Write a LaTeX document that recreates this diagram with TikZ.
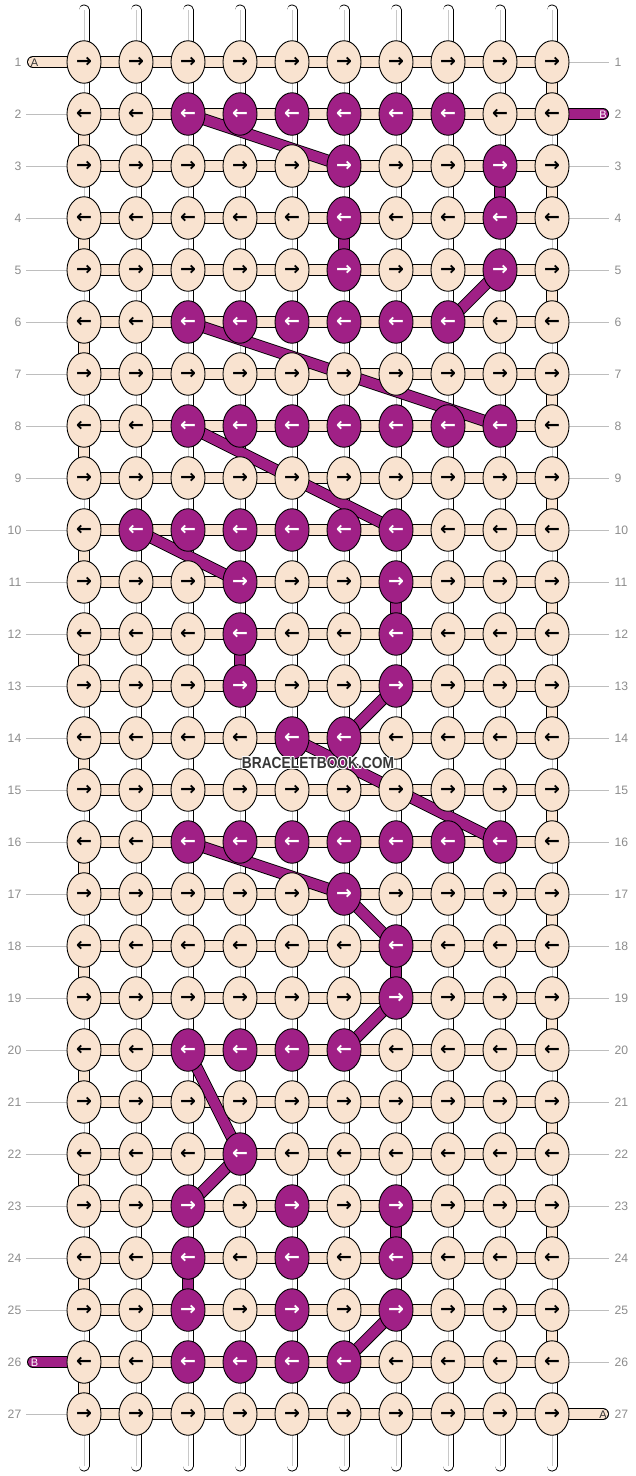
\documentclass[tikz,border=0pt]{standalone}
\usepackage{fontspec}
\setmainfont{Liberation Sans}
\newfontfamily\arrfont{DejaVu Sans}
\usetikzlibrary{shapes.geometric}
\definecolor{peach}{RGB}{249,227,208}
\definecolor{plum}{RGB}{160,32,134}
\definecolor{numgrey}{RGB}{140,140,140}
\definecolor{linegrey}{RGB}{190,190,190}
\definecolor{warpgrey}{RGB}{200,200,200}
\definecolor{wmark}{RGB}{55,55,55}
\pgfdeclarelayer{warps}
\pgfdeclarelayer{bars}
\pgfdeclarelayer{links}
\pgfsetlayers{warps,bars,links,main}
\newcommand\haloed[1]{\leavevmode
 \rlap{\color{white}\kern-0.9pt #1}\rlap{\color{white}\kern0.9pt #1}%
 \rlap{\color{white}\raisebox{0.9pt}{#1}}\rlap{\color{white}\raisebox{-0.9pt}{#1}}%
 \rlap{\color{white}\kern0.7pt\raisebox{0.7pt}{#1}}\rlap{\color{white}\kern-0.7pt\raisebox{-0.7pt}{#1}}%
 \rlap{\color{white}\kern0.7pt\raisebox{-0.7pt}{#1}}\rlap{\color{white}\kern-0.7pt\raisebox{0.7pt}{#1}}%
 #1}
\tikzset{
 knot/.style={ellipse, draw=black, line width=0.9pt, minimum width=34pt, minimum height=42.5pt, inner sep=0pt, font=\arrfont\bfseries\fontsize{19}{19}\selectfont},
 strand/.style={line width=0.9pt, draw=black, double distance=10.2pt},
 barA/.style={strand, double=peach},
 barB/.style={strand, double=plum},
 tailA/.style={barA, line cap=round},
 tailB/.style={barB, line cap=round},
 warpline/.style={line width=0.9pt, draw=black, double=white, double distance=9.2pt, line cap=round},
 warpcore/.style={line width=1pt, draw=warpgrey},
 rowline/.style={line width=0.8pt, draw=linegrey},
 rownum/.style={font=\fontsize{12.2}{13}\selectfont, text=numgrey, inner sep=0pt},
 taillabel/.style={font=\fontsize{11}{11}\selectfont, inner sep=0pt},
 watermark/.style={font=\bfseries\fontsize{16}{16}\selectfont, text=wmark, inner sep=0pt},
}
\begin{document}
\begin{tikzpicture}[x=1pt,y=-1pt]
\useasboundingbox (0,0) rectangle (636,1476);
% knots tied with string B
\foreach \r/\cs in {2/{3,4,5,6,7,8},3/{6,9},4/{6,9},5/{6,9},6/{3,4,5,6,7,8},8/{3,4,5,6,7,8,9},10/{2,3,4,5,6,7},11/{4,7},12/{4,7},13/{4,7},14/{5,6},16/{3,4,5,6,7,8,9},17/{6},18/{7},19/{7},20/{3,4,5,6},22/{4},23/{3,5,7},24/{3,5,7},25/{3,5,7},26/{3,4,5,6}}{
 \foreach \c in \cs {\expandafter\gdef\csname isB-\r-\c\endcsname{}}}
% knots
\foreach \r in {1,...,27}{
 \foreach \c in {1,...,10}{
  \ifcsname isB-\r-\c\endcsname\def\kfill{plum}\def\ktext{white}\else\def\kfill{peach}\def\ktext{black}\fi
  \ifodd\r\relax\def\arr{→}\else\def\arr{←}\fi
  \node[knot, fill=\kfill, text=\ktext] (n\r-\c) at ({84+52*(\c-1)},{62+52*(\r-1)}) {\arr};
 }}
% warps
\begin{pgfonlayer}{warps}
 \foreach \c in {1,...,10}{
  \coordinate (wt\c) at ({84+52*(\c-1)},10);
  \coordinate (wb\c) at ({84+52*(\c-1)},1466);
  \draw[warpline] (wt\c) -- (wb\c);
  \draw[warpcore] (wt\c) -- (wb\c);
 }
 % row guide lines
 \foreach \r in {2,...,25,27}{
  \coordinate (ll\r) at (26,{62+52*(\r-1)});
  \draw[rowline] (ll\r) -- (n\r-1.west);
 }
 \foreach \r in {1,3,4,...,26}{
  \coordinate (rl\r) at (609,{62+52*(\r-1)});
  \draw[rowline] (n\r-10.east) -- (rl\r);
 }
\end{pgfonlayer}
% horizontal strands and tails
\begin{pgfonlayer}{bars}
 \foreach \r in {1,...,27}{
  \draw[barA] (n\r-1.center) -- (n\r-10.center);
 }
 \coordinate (tA1) at (33,62);
 \coordinate (tB2) at (603,114);
 \coordinate (tB26) at (33,1362);
 \coordinate (tA27) at (603,1414);
 \draw[tailA] (n1-1.center) -- (tA1);
 \draw[tailB] (n2-10.center) -- (tB2);
 \draw[tailB] (n26-1.center) -- (tB26);
 \draw[tailA] (n27-10.center) -- (tA27);
\end{pgfonlayer}
% vertical and diagonal links
\begin{pgfonlayer}{links}
 \foreach \r in {1,3,...,25}{
  \pgfmathtruncatemacro\rn{\r+1}
  \draw[barA] (n\r-10.center) -- (n\rn-10.center);
 }
 \foreach \r in {2,4,...,26}{
  \pgfmathtruncatemacro\rn{\r+1}
  \draw[barA] (n\r-1.center) -- (n\rn-1.center);
 }
 \foreach \a/\b in {3-9/4-9,4-6/5-6,11-7/12-7,12-4/13-4,18-7/19-7,23-7/24-7,24-3/25-3,
   2-3/3-6,5-9/6-8,6-3/8-9,8-3/10-7,10-2/11-4,13-7/14-6,14-5/16-9,16-3/17-6,17-6/18-7,19-7/20-6,20-3/22-4,22-4/23-3,25-7/26-6}{
  \draw[barB] (n\a.center) -- (n\b.center);
 }
\end{pgfonlayer}
% tail letters
\node[taillabel, text=black!80] (lA1) at (34.5,62.5) {A};
\node[taillabel, text=white] (lB2) at (603,114.5) {B};
\node[taillabel, text=white] (lB26) at (34.5,1362.5) {B};
\node[taillabel, text=black!80] (lA27) at (603,1414.5) {A};
% row numbers
\foreach \r in {1,...,27}{
 \node[rownum, anchor=east] (ln\r) at (21.5,{62+52*(\r-1)}) {\r};
 \node[rownum, anchor=west] (rn\r) at (614.5,{62+52*(\r-1)}) {\r};
}
% watermark
\node[watermark] (wm) at (318,763) {\scalebox{0.86}[1]{\haloed{BRACELETBOOK.COM}}};
\end{tikzpicture}
\end{document}
